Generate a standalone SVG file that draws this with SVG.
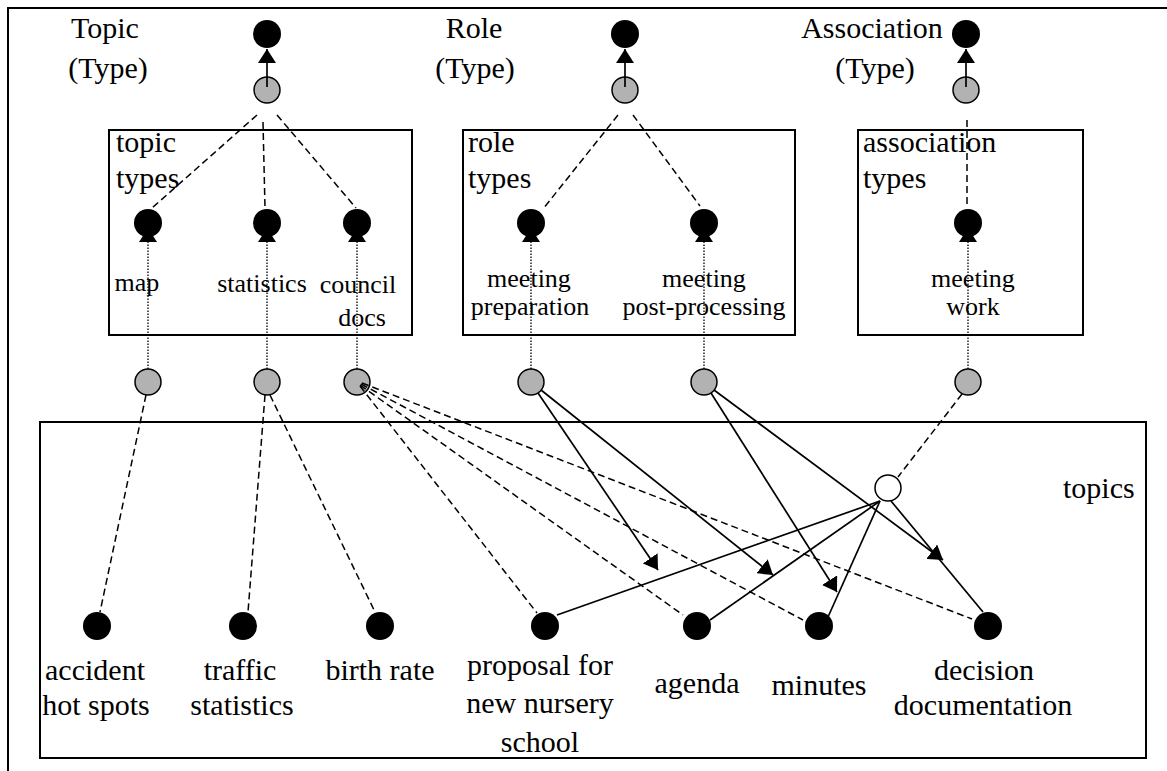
<svg xmlns="http://www.w3.org/2000/svg" width="1167" height="771" viewBox="0 0 1167 771">
  <defs>
    <marker id="tri" markerUnits="userSpaceOnUse" viewBox="0 0 14 18" refX="14" refY="9" markerWidth="14" markerHeight="18" orient="auto">
      <path d="M0,0 L14,9 L0,18 z" fill="#000"/>
    </marker>
    <style>
      .frame { fill: none; stroke: #000; stroke-width: 2; }
      .box { fill: #fff; stroke: #000; stroke-width: 2; }
      .t30 { font-family: "Liberation Serif", "Times New Roman", serif; font-size: 30px; fill: #000; }
      .t26 { font-family: "Liberation Serif", "Times New Roman", serif; font-size: 26px; fill: #000; }
      .mid { text-anchor: middle; }
      .type { fill: #000; }
      .inst { fill: #b2b2b2; stroke: #000; stroke-width: 1.5; }
      .assoc { fill: #fff; stroke: #000; stroke-width: 1.5; }
      .dash { fill: none; stroke: #000; stroke-width: 1.5; stroke-dasharray: 7 4; }
      .dot { fill: none; stroke: #000; stroke-width: 1.3; stroke-dasharray: 1.5 1.5; }
      .solid { fill: none; stroke: #000; stroke-width: 1.7; }
    </style>
  </defs>

  <rect width="1167" height="771" fill="#fff"/>

  <!-- page frame (open on the right and bottom) -->
  <path class="frame" d="M1167,8 H8 V771"/>

  <!-- containers -->
  <g id="topic-types-box">
    <rect class="box" x="109" y="130" width="303" height="205"/>
    <text class="t30" x="116" y="152">topic</text>
    <text class="t30" x="116" y="188">types</text>
  </g>
  <g id="role-types-box">
    <rect class="box" x="463" y="130" width="332" height="205"/>
    <text class="t30" x="468" y="152">role</text>
    <text class="t30" x="468" y="188">types</text>
  </g>
  <g id="association-types-box">
    <rect class="box" x="858" y="130" width="225" height="205"/>
    <text class="t30" x="863" y="152">association</text>
    <text class="t30" x="863" y="188">types</text>
  </g>
  <g id="topics-box">
    <rect class="box" x="40" y="422" width="1106" height="336"/>
    <text class="t30" x="1063" y="498">topics</text>
  </g>

  <!-- meta types -->
  <g id="topic-type">
    <text class="t30 mid" x="105" y="38">Topic</text>
    <text class="t30 mid" x="108" y="78">(Type)</text>
    <circle class="type" cx="267" cy="34" r="14"/>
    <circle class="inst" cx="267" cy="90" r="13"/>
  </g>
  <g id="role-type">
    <text class="t30 mid" x="474" y="38">Role</text>
    <text class="t30 mid" x="475" y="78">(Type)</text>
    <circle class="type" cx="625" cy="34" r="14"/>
    <circle class="inst" cx="625" cy="90" r="13"/>
  </g>
  <g id="association-type">
    <text class="t30 mid" x="872" y="38">Association</text>
    <text class="t30 mid" x="875" y="78">(Type)</text>
    <circle class="type" cx="966" cy="34" r="14"/>
    <circle class="inst" cx="966" cy="90" r="13"/>
  </g>

  <!-- topic types -->
  <g id="map">
    <circle class="type" cx="148" cy="223" r="14"/>
    <text class="t26 mid" x="137" y="291">map</text>
    <circle class="inst" cx="148" cy="382" r="13"/>
  </g>
  <g id="statistics">
    <circle class="type" cx="267" cy="223" r="14"/>
    <text class="t26 mid" x="262" y="292">statistics</text>
    <circle class="inst" cx="267" cy="382" r="13"/>
  </g>
  <g id="council-docs">
    <circle class="type" cx="357" cy="223" r="14"/>
    <text class="t26 mid" x="358" y="293">council</text>
    <text class="t26 mid" x="362" y="326">docs</text>
    <circle class="inst" cx="357" cy="382" r="13"/>
  </g>

  <!-- role types -->
  <g id="meeting-preparation">
    <circle class="type" cx="531" cy="223" r="14"/>
    <text class="t26 mid" x="529" y="287">meeting</text>
    <text class="t26 mid" x="530" y="315">preparation</text>
    <circle class="inst" cx="531" cy="382" r="13"/>
  </g>
  <g id="meeting-post-processing">
    <circle class="type" cx="704" cy="223" r="14"/>
    <text class="t26 mid" x="704" y="287">meeting</text>
    <text class="t26 mid" x="704" y="315">post-processing</text>
    <circle class="inst" cx="704" cy="382" r="13"/>
  </g>

  <!-- association type -->
  <g id="meeting-work">
    <circle class="type" cx="968" cy="223" r="14"/>
    <text class="t26 mid" x="973" y="287">meeting</text>
    <text class="t26 mid" x="973" y="315">work</text>
    <circle class="inst" cx="968" cy="382" r="13"/>
  </g>

  <!-- association instance -->
  <g id="meeting-work-association">
    <circle class="assoc" cx="888" cy="488" r="13"/>
  </g>

  <!-- topics -->
  <g id="accident-hot-spots">
    <circle class="type" cx="97" cy="626" r="14"/>
    <text class="t30 mid" x="95" y="680">accident</text>
    <text class="t30 mid" x="96" y="715">hot spots</text>
  </g>
  <g id="traffic-statistics">
    <circle class="type" cx="243" cy="626" r="14"/>
    <text class="t30 mid" x="240" y="680">traffic</text>
    <text class="t30 mid" x="242" y="715">statistics</text>
  </g>
  <g id="birth-rate">
    <circle class="type" cx="380" cy="626" r="14"/>
    <text class="t30 mid" x="380" y="680">birth rate</text>
  </g>
  <g id="proposal">
    <circle class="type" cx="545" cy="626" r="14"/>
    <text class="t30 mid" x="540" y="675">proposal for</text>
    <text class="t30 mid" x="540" y="713">new nursery</text>
    <text class="t30 mid" x="540" y="752">school</text>
  </g>
  <g id="agenda">
    <circle class="type" cx="697" cy="626" r="14"/>
    <text class="t30 mid" x="697" y="693">agenda</text>
  </g>
  <g id="minutes">
    <circle class="type" cx="819" cy="626" r="14"/>
    <text class="t30 mid" x="819" y="695">minutes</text>
  </g>
  <g id="decision-documentation">
    <circle class="type" cx="988" cy="626" r="14"/>
    <text class="t30 mid" x="984" y="680">decision</text>
    <text class="t30 mid" x="983" y="715">documentation</text>
  </g>

  <g id="connectors">
    <!-- instance-of the meta types -->
    <line class="solid" x1="267" y1="87" x2="267" y2="49" marker-end="url(#tri)"/>
    <line class="solid" x1="625" y1="87" x2="625" y2="49" marker-end="url(#tri)"/>
    <line class="solid" x1="966" y1="87" x2="966" y2="49" marker-end="url(#tri)"/>

    <!-- meta type to types -->
    <line class="dash" x1="257" y1="115" x2="152" y2="208"/>
    <line class="dash" x1="263" y1="122" x2="265" y2="208"/>
    <line class="dash" x1="277" y1="115" x2="356" y2="208"/>
    <line class="dash" x1="618" y1="115" x2="543" y2="209"/>
    <line class="dash" x1="633" y1="115" x2="700" y2="206"/>
    <line class="dash" x1="967" y1="120" x2="967" y2="207"/>

    <!-- type instances -->
    <line class="dot" x1="148" y1="369" x2="148" y2="228" marker-end="url(#tri)"/>
    <line class="dot" x1="267" y1="369" x2="267" y2="228" marker-end="url(#tri)"/>
    <line class="dot" x1="357" y1="369" x2="357" y2="228" marker-end="url(#tri)"/>
    <line class="dot" x1="531" y1="369" x2="531" y2="228" marker-end="url(#tri)"/>
    <line class="dot" x1="704" y1="369" x2="704" y2="228" marker-end="url(#tri)"/>
    <line class="dot" x1="968" y1="369" x2="968" y2="228" marker-end="url(#tri)"/>

    <!-- topic typing -->
    <line class="dash" x1="146" y1="395" x2="100" y2="612"/>
    <line class="dash" x1="265" y1="395" x2="248" y2="612"/>
    <line class="dash" x1="270" y1="395" x2="375" y2="612"/>
    <line class="dash" x1="360" y1="386" x2="537" y2="613"/>
    <line class="dash" x1="360" y1="385" x2="683" y2="615"/>
    <line class="dash" x1="361" y1="384" x2="803" y2="620"/>
    <line class="dash" x1="362" y1="383" x2="972" y2="619"/>

    <!-- association typing -->
    <line class="dash" x1="962" y1="394" x2="898" y2="477"/>

    <!-- association members -->
    <line class="solid" x1="880" y1="501" x2="557" y2="615"/>
    <line class="solid" x1="880" y1="501" x2="710" y2="620"/>
    <line class="solid" x1="880" y1="501" x2="828" y2="617"/>
    <line class="solid" x1="891" y1="501" x2="983" y2="612"/>

    <!-- member roles -->
    <line class="solid" x1="538" y1="393" x2="658" y2="570" marker-end="url(#tri)"/>
    <line class="solid" x1="541" y1="390" x2="773" y2="575" marker-end="url(#tri)"/>
    <line class="solid" x1="711" y1="393" x2="837" y2="592" marker-end="url(#tri)"/>
    <line class="solid" x1="714" y1="390" x2="943" y2="560" marker-end="url(#tri)"/>
  </g>
</svg>
